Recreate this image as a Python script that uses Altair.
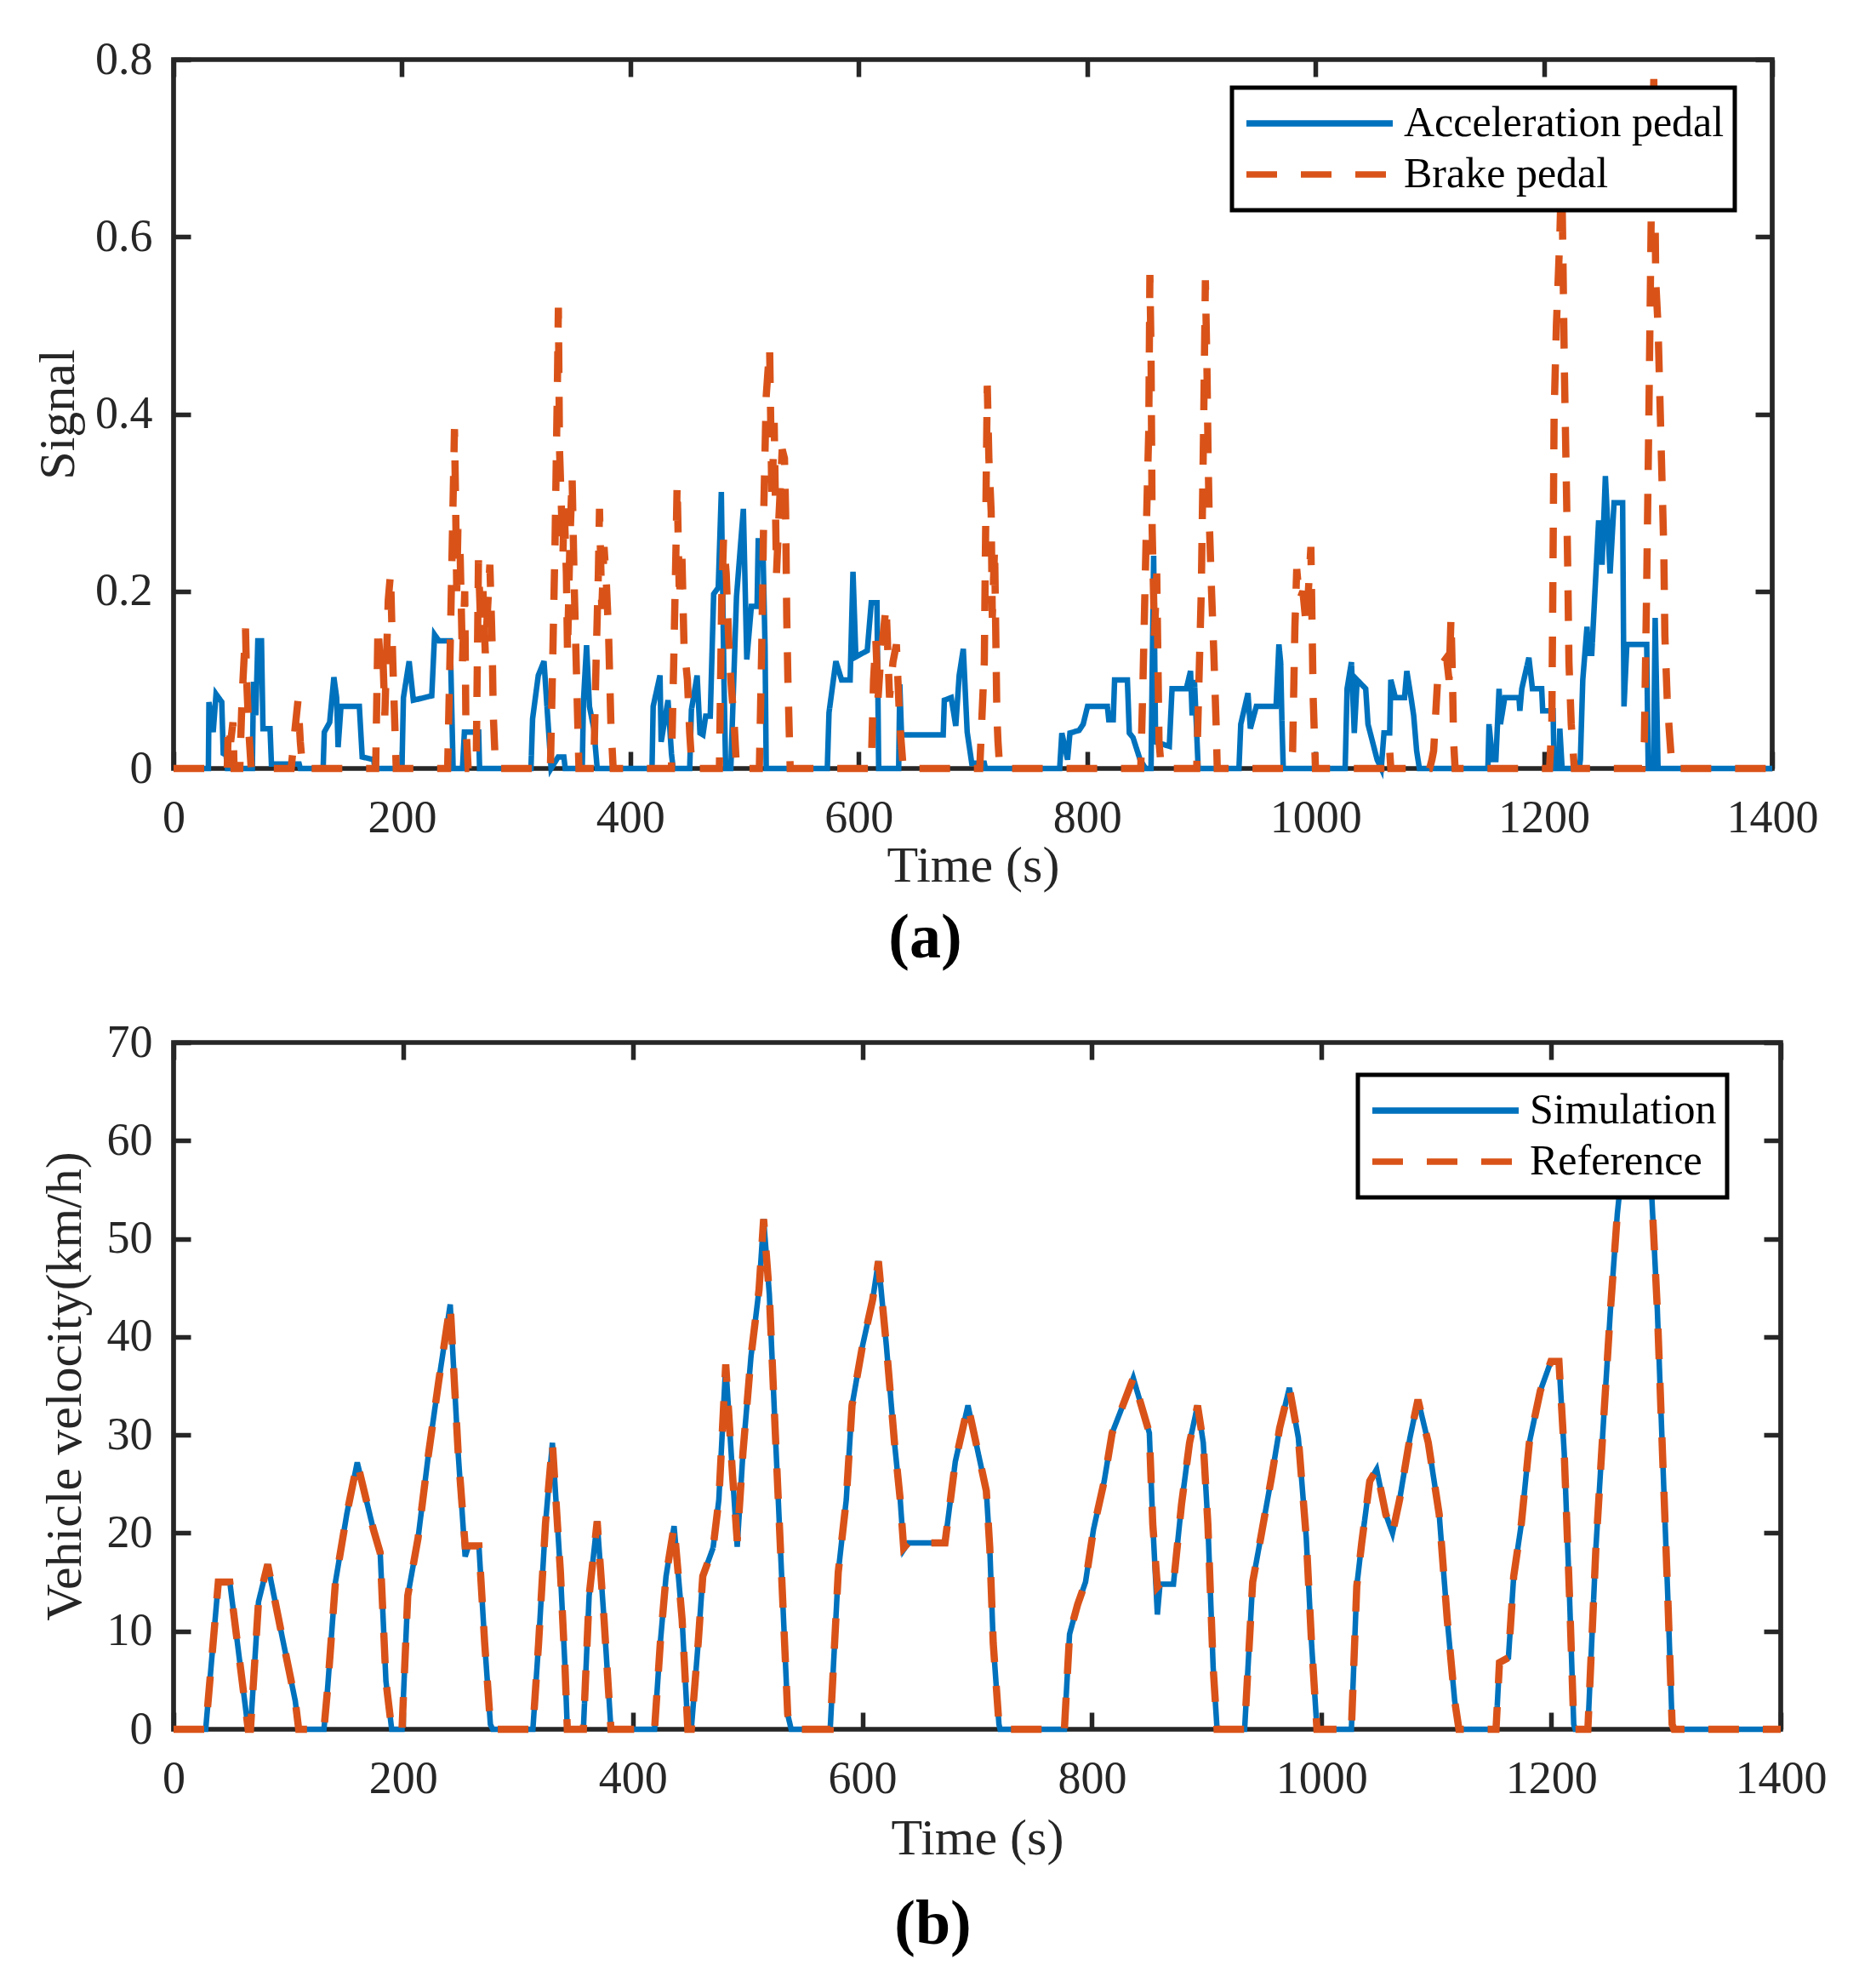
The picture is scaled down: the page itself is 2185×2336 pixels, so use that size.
import altair as alt
import pandas as pd

BLUE = "#0072BD"
ORANGE = "#D95319"
AXIS_COLOR = "#262626"
FONT = "Liberation Serif"

# ---------------- (a) pedal signals: (time s, signal) vertices ----------------
acc_points = [
    (0, 0), (30.5, 0), (31, 0.075), (34.7, 0.041), (37.2, 0.084), (42.2, 0.075), (43.5, 0.017),
    (46, 0.015), (47.2, 0), (69, 0), (70, 0.098), (72, 0.06), (73.8, 0.144), (77, 0.144),
    (78.3, 0.045), (84.5, 0.045), (85.7, 0.005), (110, 0.005), (111, 0), (131, 0), (132, 0.041),
    (136.7, 0.052), (140.4, 0.103), (142.8, 0.08), (144.1, 0.024), (146.6, 0.07), (162.7, 0.07),
    (165.2, 0.013), (175.2, 0.01), (176.4, 0), (200, 0), (201.3, 0.08), (206.3, 0.121),
    (210, 0.077), (226.1, 0.082), (228.6, 0.151), (232.4, 0.144), (242.3, 0.144), (244.8, 0),
    (253, 0), (254.7, 0.041), (267.2, 0.041), (268, 0), (313, 0), (314.4, 0.056), (319.4, 0.105),
    (324.4, 0.121), (330.6, 0), (336.8, 0.013), (341.8, 0.013), (343, 0), (357.9, 0),
    (359, 0.077), (361.7, 0.139), (364.2, 0.07), (368, 0.045), (371, 0), (419, 0), (420, 0.07),
    (426, 0.105), (427, 0.03), (433, 0.077), (436, 0.017), (437.5, 0), (452, 0), (453.5, 0.066),
    (458.5, 0.105), (461, 0.04), (463.6, 0.038), (466, 0.059), (470, 0.059), (473, 0.197),
    (477, 0.204), (479.7, 0.312), (482, 0.1), (483.5, 0), (488, 0), (493, 0.194), (499, 0.293),
    (502, 0.123), (506, 0.183), (511, 0.183), (512, 0.257), (516, 0.257), (518, 0.137), (519, 0),
    (572.5, 0), (574, 0.063), (580, 0.121), (585, 0.1), (592.5, 0.1), (595, 0.222),
    (597.5, 0.126), (607.5, 0.133), (611, 0.187), (616, 0.187), (617.5, 0), (635, 0),
    (636, 0.095), (637.5, 0.038), (674, 0.038), (675, 0.077), (681, 0.08), (685, 0.048),
    (688, 0.105), (691.6, 0.135), (695, 0.041), (699, 0.006), (710, 0.006), (711, 0), (776, 0),
    (777.9, 0.04), (782.9, 0.01), (785, 0.04), (793, 0.043), (796.6, 0.05), (800.4, 0.07),
    (817.8, 0.07), (819, 0.055), (822.9, 0.055), (824.1, 0.1), (835.3, 0.1), (837, 0.04),
    (840.2, 0.035), (846.4, 0.01), (851.2, 0), (856, 0), (858.3, 0.24), (860, 0.03),
    (872, 0.025), (874.4, 0.09), (886.9, 0.09), (890.6, 0.11), (892, 0.06), (894, 0.1),
    (896, 0.04), (897.3, 0), (933, 0), (934.6, 0.05), (940.9, 0.085), (943, 0.045),
    (948.2, 0.07), (965.5, 0.07), (968, 0.14), (969.5, 0.12), (970.6, 0.055), (971.8, 0),
    (1026, 0), (1027.7, 0.09), (1031.5, 0.12), (1034, 0.04), (1036.5, 0.1), (1044, 0.09),
    (1046, 0.05), (1050, 0.03), (1054, 0.01), (1057.6, 0), (1060, 0.04), (1065, 0.04),
    (1066, 0.1), (1070, 0.08), (1078, 0.08), (1080, 0.11), (1083.7, 0.08), (1086, 0.06),
    (1088.6, 0.02), (1091, 0), (1151, 0), (1152, 0.05), (1155, 0.01), (1158, 0.01),
    (1160.8, 0.09), (1162, 0.05), (1165.8, 0.08), (1178.2, 0.08), (1179, 0.065), (1180.7, 0.09),
    (1186.9, 0.125), (1190, 0.09), (1198.1, 0.09), (1199, 0.065), (1208.1, 0.065), (1209, 0),
    (1213, 0), (1214, 0.045), (1216, 0), (1231, 0), (1232, 0.01), (1234.1, 0.1),
    (1237.8, 0.16), (1239, 0.13), (1242, 0.13), (1248, 0.28), (1251, 0.23), (1253.9, 0.33),
    (1258, 0.22), (1261.5, 0.3), (1269, 0.3), (1270.2, 0.07), (1272.7, 0.14), (1290.1, 0.14),
    (1291.4, 0), (1296, 0), (1297.5, 0.17), (1300, 0), (1400, 0),
]

brake_points = [
    (0, 0), (47, 0), (48, 0.05), (50, 0.03), (52, 0.052), (53, 0), (58, 0), (60, 0.08),
    (62, 0.13), (63, 0.158), (64, 0.1), (66, 0.04), (68, 0), (103, 0), (106, 0.04),
    (109, 0.077), (111, 0.03), (113, 0), (177, 0), (179, 0.16), (181, 0.12), (183, 0.14),
    (185, 0.06), (188, 0.19), (190, 0.22), (192, 0.12), (195, 0), (240, 0), (242, 0.12),
    (244, 0.25), (246, 0.383), (247, 0.3), (248, 0.2), (249, 0.27), (251, 0.24), (253, 0.12),
    (255, 0.2), (256, 0.05), (258, 0), (265, 0), (267, 0.235), (269, 0.16), (271, 0.2),
    (273, 0.13), (275, 0.18), (277, 0.23), (279, 0.14), (280, 0.06), (282, 0), (330, 0),
    (332, 0.12), (334, 0.25), (336, 0.42), (337, 0.52), (338, 0.36), (339, 0.32), (341, 0.24),
    (342, 0.3), (344, 0.22), (345, 0.13), (347, 0.25), (349, 0.33), (351, 0.2), (353, 0.1),
    (355, 0), (368, 0), (370, 0.12), (372, 0.22), (373, 0.293), (375, 0.18), (377, 0.25),
    (379, 0.21), (381, 0.15), (383, 0.05), (385, 0), (436, 0), (438, 0.12), (440, 0.25),
    (441, 0.321), (443, 0.19), (445, 0.25), (447, 0.14), (450, 0.1), (452, 0.04), (454, 0),
    (478, 0), (480, 0.19), (481.6, 0.258), (484, 0.22), (486, 0.15), (488, 0.1), (491, 0.05),
    (493, 0), (513, 0), (515, 0.13), (517, 0.3), (519, 0.42), (522, 0.475), (524, 0.3),
    (526, 0.39), (528, 0.22), (530, 0.28), (533, 0.36), (535, 0.35), (536, 0.29), (537, 0.17),
    (538, 0.1), (540, 0), (611, 0), (613, 0.1), (615, 0.145), (617, 0.08), (619, 0.12),
    (624, 0.184), (627, 0.08), (630, 0.12), (633, 0.14), (636, 0.05), (639, 0), (706, 0),
    (708, 0.06), (710, 0.12), (711, 0.25), (712.6, 0.432), (714, 0.35), (716, 0.29),
    (717, 0.17), (719, 0.25), (721, 0.06), (722, 0.03), (723.5, 0), (847, 0), (849, 0.1),
    (851, 0.22), (853, 0.33), (854, 0.38), (855, 0.557), (856, 0.47), (857, 0.27), (859, 0.15),
    (861, 0.22), (863, 0.03), (865, 0), (896, 0), (898, 0.1), (900, 0.2), (902, 0.38),
    (903.6, 0.551), (905, 0.45), (906, 0.35), (907, 0.28), (909, 0.2), (911, 0.13), (913, 0.05),
    (914, 0), (978, 0), (980, 0.02), (982, 0.16), (983.6, 0.225), (986, 0.19), (989, 0.2),
    (992, 0.16), (996, 0.25), (998, 0.08), (999, 0.04), (1000, 0), (1064, 0), (1065, 0.02),
    (1066, 0), (1100, 0), (1102, 0.01), (1103.5, 0.02), (1105, 0.055), (1107, 0.1),
    (1109, 0.115), (1114.8, 0.125), (1117, 0.1), (1118.7, 0.17), (1120, 0.1), (1121, 0.03),
    (1122.3, 0), (1205, 0), (1207, 0.05), (1209, 0.4), (1211, 0.5), (1214, 0.6),
    (1215.6, 0.68), (1217, 0.55), (1218, 0.45), (1220, 0.3), (1221, 0.22), (1222, 0.12),
    (1224, 0.05), (1226.7, 0), (1286, 0), (1288, 0.03), (1290, 0.2), (1292, 0.4), (1294, 0.62),
    (1296.3, 0.778), (1298, 0.55), (1300, 0.5), (1302, 0.4), (1304, 0.3), (1305, 0.25),
    (1306, 0.15), (1308, 0.08), (1310, 0.04), (1312.3, 0), (1400, 0),
]

# ---------------- (b) vehicle velocity (km/h) ----------------
vel_time = [
    0, 28, 39, 49, 65, 67, 74, 82, 95, 106, 109, 131, 134, 141, 151, 160, 174, 180, 185, 190,
    199, 204, 213, 222, 231, 241, 248, 254, 257, 266, 271, 276, 278, 313, 318, 324, 330, 337,
    341, 343, 357, 362, 369, 375, 381, 419, 424, 429, 436, 443, 448, 451, 457, 461, 470, 475,
    481, 487, 491, 496, 503, 510, 514, 519, 524, 529, 535, 538, 572, 579, 586, 591, 600, 609,
    614, 621, 628, 633, 636, 640, 672, 681, 692, 699, 708, 711, 714, 719, 720, 776, 780.5,
    787.5, 794.4, 801.4, 810.7, 817.6, 826.9, 836, 843, 850, 853, 857, 859.3, 871, 878, 885,
    892, 897, 901, 905.6, 909, 933, 940, 947, 956.6, 963.5, 972, 979.8, 986.7, 991.3, 996,
    1026, 1030.7, 1035, 1042, 1048, 1056, 1061.8, 1068, 1077, 1084, 1093, 1102.5, 1109.5,
    1116, 1119.7, 1152, 1155, 1162.8, 1167.4, 1174, 1181, 1190.6, 1199.8, 1206.8, 1211.4,
    1216, 1219.7, 1221, 1232, 1239, 1246, 1251.7, 1257.7, 1262, 1270, 1280, 1287.8, 1292.5,
    1297, 1301.6, 1305.4, 1307, 1400,
]
vel_reference = [
    0, 0, 15, 15, 0, 0, 13, 16.8, 9.2, 2.9, 0, 0, 3.9, 15, 22, 27.2, 20.4, 18, 4.9, 0,
    0, 13.6, 19.5, 28, 35.5, 43.3, 28, 18.7, 18.7, 18.7, 8.8, 0.5, 0, 0, 8.8, 21, 29.2, 16,
    6.3, 0, 0, 13.6, 21.2, 11.2, 0, 0, 8.8, 15.6, 20.7, 11.2, 0, 0, 8.8, 15.6, 18.5, 23.4,
    37.2, 25.8, 19.2, 28.2, 38, 44.8, 52, 44.3, 30.7, 17.5, 1.5, 0, 0, 16, 23.4, 33, 39, 43.8,
    47.7, 39, 29.2, 23.4, 18.5, 19, 19, 27.3, 33, 29.2, 24.3, 18.5, 8.8, 0.5, 0, 0, 9.7,
    12.7, 15, 20.4, 25.3, 30.2, 33, 35.8, 33, 30.2, 20.9, 14.5, 14.8, 14.8, 22.9, 29.2,
    33, 29.2, 20.9, 6.3, 0, 0, 15, 19.5, 25.8, 30.7, 34.8, 29.7, 19.5, 8.8, 0,
    0, 14.6, 19, 25.3, 26.5, 21.9, 20, 23.4, 29.7, 33.6, 29.2, 21.9, 11.2,
    2.9, 0, 0, 6.8, 7.3, 15.6, 20.9, 29.2, 34.5, 37.5, 37.5, 28.2,
    13.6, 0.5, 0, 0, 18.5, 32.1, 42.8, 52.6, 57.4, 61, 60, 54, 42.8,
    28.2, 13.6, 0.5, 0, 0,
]
vel_simulation = [
    0, 0, 15, 15, 0, 0, 13, 16.8, 9.2, 2.9, 0, 0, 3.9, 15, 22, 27.2, 20.4, 18, 4.9, 0,
    0, 13.6, 19.5, 28, 35.5, 43.3, 28, 17.6, 18.7, 18.7, 8.8, 0.5, 0, 0, 8.8, 21, 29.2, 16,
    6.3, 0, 0, 13.6, 21.2, 11.2, 0, 0, 8.8, 15.6, 20.7, 11.2, 0, 0, 8.8, 15.6, 18.5, 23.4,
    37.2, 25.8, 18.6, 28.2, 38, 44.8, 52, 44.3, 30.7, 17.5, 1.5, 0, 0, 16, 23.4, 33, 39, 43.8,
    47.7, 39, 29.2, 23.4, 18.3, 19, 19, 27.3, 33, 29.2, 24.3, 18.5, 8.8, 0.5, 0, 0, 9.7,
    12.7, 15, 20.4, 25.3, 30.2, 33, 35.8, 33, 30.2, 20.9, 11.7, 14.8, 14.8, 22.9, 29.2,
    33, 29.2, 20.9, 6.3, 0, 0, 15, 19.5, 25.8, 30.7, 34.8, 29.7, 19.5, 8.8, 0,
    0, 14.6, 19, 25.3, 26.5, 21.9, 20, 23.4, 29.7, 33.6, 29.2, 21.9, 11.2,
    2.9, 0, 0, 6.8, 7.3, 15.6, 20.9, 29.2, 34.5, 37.5, 37.5, 28.2,
    13.6, 0.5, 0, 0, 18.5, 32.1, 42.8, 52.6, 57.4, 61, 60, 54, 42.8,
    28.2, 13.6, 0.5, 0, 0,
]

time_ticks = [0, 200, 400, 600, 800, 1000, 1200, 1400]
signal_ticks = [0, 0.2, 0.4, 0.6, 0.8]
velocity_ticks = [0, 10, 20, 30, 40, 50, 60, 70]


def to_frame(points, name):
    return pd.DataFrame({
        "t": [p[0] for p in points],
        "v": [p[1] for p in points],
        "series": name,
        "idx": list(range(len(points))),
    })


df_a = pd.concat([
    to_frame(acc_points, "Acceleration pedal"),
    to_frame(brake_points, "Brake pedal"),
])
df_b = pd.concat([
    to_frame(list(zip(vel_time, vel_simulation)), "Simulation"),
    to_frame(list(zip(vel_time, vel_reference)), "Reference"),
])


def panel(df, order, y_title, y_domain, y_ticks, y_fmt, width, height,
          legend_x, legend_y, ytitle_x, xtitle_y, label, label_offset):
    x_scale = alt.Scale(domain=[0, 1400], nice=False, zero=False)
    y_scale = alt.Scale(domain=y_domain, nice=False, zero=False)
    legend = alt.Legend(title=None, orient="none", legendX=legend_x, legendY=legend_y)
    color = alt.Color("series:N", scale=alt.Scale(domain=order, range=[BLUE, ORANGE]), legend=legend)
    dash = alt.StrokeDash("series:N", scale=alt.Scale(domain=order, range=[[1, 0], [36, 28]]), legend=legend)

    x_axis = alt.Axis(orient="bottom", values=time_ticks, format="d", offset=-20, tickSize=20,
                      tickWidth=5.5, domain=False, grid=False, labelPadding=31, labelFlush=False,
                      labelOverlap=False, title="Time (s)", titleY=xtitle_y, titleBaseline="alphabetic")
    y_axis = alt.Axis(orient="left", values=y_ticks, format=y_fmt, offset=-20, tickSize=20,
                      tickWidth=5.5, domain=False, grid=False, labelPadding=25, labelFlush=False,
                      labelOverlap=False, title=y_title, titleX=ytitle_x, titleY=height / 2,
                      titleAlign="center", titleBaseline="alphabetic", titleAngle=270)
    top_axis = alt.Axis(orient="top", values=time_ticks, offset=-20, tickSize=20, tickWidth=5.5,
                        domain=False, grid=False, labels=False, title=None)
    right_axis = alt.Axis(orient="right", values=y_ticks, offset=-20, tickSize=20, tickWidth=5.5,
                          domain=False, grid=False, labels=False, title=None)

    first = alt.Chart(df[df["series"] == order[0]]).mark_line(strokeWidth=6.5).encode(
        x=alt.X("t:Q", scale=x_scale, axis=x_axis),
        y=alt.Y("v:Q", scale=y_scale, axis=y_axis),
        color=color, strokeDash=dash, order="idx:Q",
    )
    second = alt.Chart(df[df["series"] == order[1]]).mark_line(strokeWidth=8.5).encode(
        x=alt.X("t:Q", scale=x_scale, axis=None),
        y=alt.Y("v:Q", scale=y_scale, axis=None),
        color=color, strokeDash=dash, order="idx:Q",
    )
    mirror = alt.Chart(pd.DataFrame({"t": [0], "v": [y_domain[0]]})).mark_point(opacity=0).encode(
        x=alt.X("t:Q", scale=x_scale, axis=top_axis),
        y=alt.Y("v:Q", scale=y_scale, axis=right_axis),
    )
    return alt.layer(first, second, mirror).resolve_axis(x="independent", y="independent").properties(
        width=width, height=height,
        title=alt.TitleParams(label, orient="bottom", anchor="middle", frame="bounds",
                              fontSize=74, fontWeight="bold", font=FONT, color="black",
                              offset=label_offset),
    )


top = panel(df_a, ["Acceleration pedal", "Brake pedal"], "Signal", [0, 0.8], signal_ticks,
            ".1~f", 1879, 833, 1244, 33, -138, 152, "(a)", 20)
bottom = panel(df_b, ["Simulation", "Reference"], "Vehicle velocity(km/h)", [0, 70],
               velocity_ticks, "d", 1889, 807, 1392, 38, -130, 166, "(b)", 36)

chart = alt.vconcat(top, bottom, spacing=52).resolve_scale(
    color="independent", strokeDash="independent",
    x="independent", y="independent",
).properties(
    padding={"left": 27, "top": 32, "right": 10, "bottom": 10},
).configure_view(
    stroke=AXIS_COLOR, strokeWidth=5.7,
).configure_axis(
    labelFont=FONT, labelFontSize=54, labelColor=AXIS_COLOR, labelAngle=0,
    titleFont=FONT, titleFontSize=60, titleFontWeight="normal", titleColor=AXIS_COLOR,
    tickColor=AXIS_COLOR,
).configure_legend(
    symbolType="stroke", symbolSize=29584, symbolStrokeWidth=7.5, clipHeight=60, rowPadding=0,
    padding=12, fillColor="white", strokeColor="black", strokeWidth=5, labelFont=FONT,
    labelFontSize=50, labelColor="black", labelOffset=9, labelLimit=0, symbolOffset=1,
    labelBaseline="middle",
).configure_title(font=FONT)

chart.save("out.html", embed_options={"renderer": "svg", "actions": False})
